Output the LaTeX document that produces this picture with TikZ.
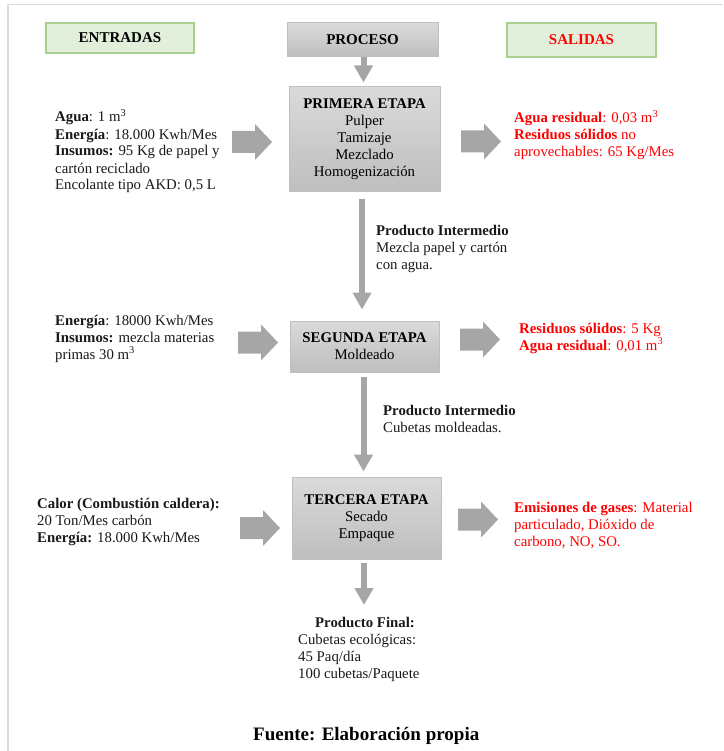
\documentclass[tikz,border=0pt]{standalone}
\usepackage{fontspec}
\setmainfont{Liberation Serif}
\usetikzlibrary{arrows.meta}
\definecolor{framegray}{HTML}{DCDCDC}
\definecolor{greenfill}{HTML}{E2EFDA}
\definecolor{greendraw}{HTML}{A9D18E}
\definecolor{boxtop}{HTML}{DADADA}
\definecolor{boxbot}{HTML}{BEBEBE}
\definecolor{boxdraw}{HTML}{BFBFBF}
\definecolor{arrowgray}{HTML}{A6A6A6}
\definecolor{outred}{HTML}{FF0000}
\tikzset{
  txt/.style={font=\fontsize{14.8}{17}\selectfont, inner sep=0pt, align=left, anchor=base west, text=black!90},
  redtxt/.style={txt, text=outred},
  greenbox/.style={draw=greendraw, line width=1.5pt, fill=greenfill, inner sep=0pt,
    font=\fontsize{15}{17}\selectfont\bfseries},
  graybox/.style={draw=boxdraw, line width=1pt, top color=boxtop, bottom color=boxbot,
    inner sep=0pt, align=center, font=\fontsize{14.8}{17}\selectfont},
  varrow/.style={draw=arrowgray, line width=6pt, -{Triangle[width=18pt,length=17pt]}},
  blockarrow/.pic={\fill[arrowgray] (0,-11) -- (23,-11) -- (23,-18) -- (40,0) -- (23,18) -- (23,11) -- (0,11) -- cycle;}
}
\begin{document}
\begin{tikzpicture}[x=1pt,y=-1pt]
\useasboundingbox (0,0) rectangle (723,751);
\fill[white] (0,0) rectangle (723,751);
\draw[framegray, line width=1.5pt] (8,751) -- (8,4.5) -- (723,4.5);

% headers
\node[greenbox, minimum width=148pt, minimum height=30pt] (entr) at (120,38) {ENTRADAS};
\node[graybox, minimum width=151pt, minimum height=34pt, font=\fontsize{15}{17}\selectfont\bfseries] (proc) at (362.5,40) {PROCESO};
\node[greenbox, minimum width=149pt, minimum height=34pt, text=outred] (sal) at (581.5,40) {SALIDAS};

% stages
\node[graybox, minimum width=151pt, minimum height=105pt] (e1) at (364.5,139.5)
  {\textbf{PRIMERA ETAPA}\\Pulper\\Tamizaje\\Mezclado\\Homogenización};
\node[graybox, minimum width=149pt, minimum height=51pt] (e2) at (364.5,346.5)
  {\textbf{SEGUNDA ETAPA}\\Moldeado};
\node[graybox, minimum width=149pt, minimum height=82pt] (e3) at (366.5,518)
  {\textbf{TERCERA ETAPA}\\Secado\\Empaque};
\coordinate (fin) at (364,605);

% vertical arrows
\draw[varrow, shorten >=4pt] (proc.south -| 363.5,0) -- (e1.north -| 363.5,0);
\draw[varrow, shorten <=7pt, shorten >=11pt] (e1.south -| 362,0) -- (e2.north -| 362,0);
\draw[varrow, shorten <=4pt, shorten >=5pt] (e2.south -| 363.5,0) -- (e3.north -| 363.5,0);
\draw[varrow, shorten <=3pt] (e3.south -| 364,0) -- (fin);

% block arrows
\pic at (232,142) {blockarrow};
\pic at (461,141.5) {blockarrow};
\pic at (238,342.5) {blockarrow};
\pic at (460,339.5) {blockarrow};
\pic at (240,528) {blockarrow};
\pic at (458,519.5) {blockarrow};

% inputs (anchor = baseline of last line)
\node[txt] (in1) at (55,190) {\textbf{Agua}: 1 m\textsuperscript{3}\\\textbf{Energía}: 18.000 Kwh/Mes\\\textbf{Insumos:} 95 Kg de papel y\\cartón reciclado\\Encolante tipo AKD: 0,5 L};
\node[txt] (in2) at (55,359) {\textbf{Energía}: 18000 Kwh/Mes\\\textbf{Insumos:} mezcla materias\\primas 30 m\textsuperscript{3}};
\node[txt] (in3) at (37,542) {\textbf{Calor (Combustión caldera):}\\20 Ton/Mes carbón\\\textbf{Energía:} 18.000 Kwh/Mes};

% outputs
\node[redtxt] (out1) at (514,157) {\textbf{Agua residual}: 0,03 m\textsuperscript{3}\\\textbf{Residuos sólidos} no\\aprovechables: 65 Kg/Mes};
\node[redtxt] (out2) at (519,350) {\textbf{Residuos sólidos}: 5 Kg\\\textbf{Agua residual}: 0,01 m\textsuperscript{3}};
\node[redtxt] (out3) at (514,546) {\textbf{Emisiones de gases}: Material\\particulado, Dióxido de\\carbono, NO, SO.};

% intermediate products
\node[txt] (pi1) at (376,269) {\textbf{Producto Intermedio}\\Mezcla papel y cartón\\con agua.};
\node[txt] (pi2) at (383,432) {\textbf{Producto Intermedio}\\Cubetas moldeadas.};

% final product
\node[txt] (pf) at (298,678) {\hspace*{17pt}\textbf{Producto Final:}\\Cubetas ecológicas:\\45 Paq/día\\100 cubetas/Paquete};

\node[txt, font=\fontsize{19}{22}\selectfont\bfseries, text=black] (src) at (253,740) {Fuente: Elaboración propia};
\end{tikzpicture}
\end{document}
